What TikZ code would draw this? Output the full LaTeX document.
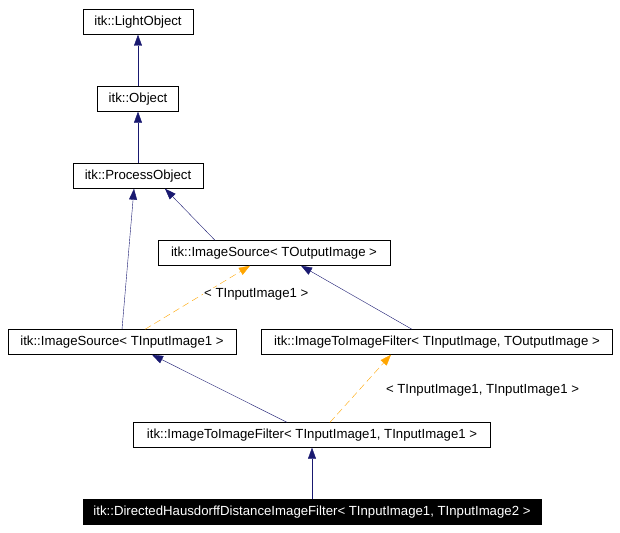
\documentclass[tikz,border=0pt]{standalone}
\usepackage{fontspec}
\setmainfont{Liberation Sans}
\usetikzlibrary{arrows.meta}
\definecolor{tplorange}{RGB}{255,165,0}
\definecolor{inhnavy}{RGB}{25,25,112}
\begin{document}
\begin{tikzpicture}[x=1pt,y=-1pt,
            cls/.style={shape=rectangle, draw, inner sep=0pt, minimum height=25pt, font=\fontsize{13.2}{15}\selectfont},
            inh/.style={draw=inhnavy, -{Triangle[length=11pt,width=8pt]}},
            tpl/.style={draw=tplorange, dash pattern=on 7pt off 4pt, -{Triangle[length=11pt,width=8pt]}},
            lbl/.style={font=\fontsize{13.2}{15}\selectfont, fill=white, inner sep=1pt}
        ]
        \useasboundingbox (0,0) rectangle (620,532);

        \node[cls, minimum width=110pt] (light) at (138,22) {itk::LightObject};
        \node[cls, minimum width=81pt] (obj) at (138,99) {itk::Object};
        \node[cls, minimum width=130pt] (proc) at (138,176) {itk::ProcessObject};
        \node[cls, minimum width=232pt] (srcout) at (274,253) {itk::ImageSource< TOutputImage >};
        \node[cls, minimum width=228pt] (srcin) at (122,342) {itk::ImageSource< TInputImage1 >};
        \node[cls, minimum width=351pt] (filtout) at (437,342) {itk::ImageToImageFilter< TInputImage, TOutputImage >};
        \node[cls, minimum width=357pt] (filtin) at (312,435) {itk::ImageToImageFilter< TInputImage1, TInputImage1 >};
        \node[cls, minimum width=458pt, fill=black, text=white] (haus) at (312,512) {itk::DirectedHausdorffDistanceImageFilter< TInputImage1, TInputImage2 >};

        \draw[inh] (obj) -- (light);
        \draw[inh] (proc) -- (obj);
        \draw[inh] ([xshift=-59pt]srcout.north) -- ([xshift=27pt]proc.south);
        \draw[inh] (srcin.north) -- ([xshift=-4pt]proc.south);
        \draw[inh] ([xshift=-25pt]filtout.north) -- ([xshift=27pt]srcout.south);
        \draw[inh] ([xshift=-25pt]filtin.north) -- ([xshift=30pt]srcin.south);
        \draw[inh] (haus) -- (filtin);
        \draw[tpl] ([xshift=23pt]srcin.north) -- node[lbl, pos=0.45, xshift=64pt, yshift=6pt] {< TInputImage1 >} ([xshift=-24pt]srcout.south);
        \draw[tpl] ([xshift=18pt]filtin.north) -- node[lbl, pos=0.5, xshift=122pt, yshift=-2pt] {< TInputImage1, TInputImage1 >} ([xshift=-46pt]filtout.south);
    \end{tikzpicture}
\end{document}
